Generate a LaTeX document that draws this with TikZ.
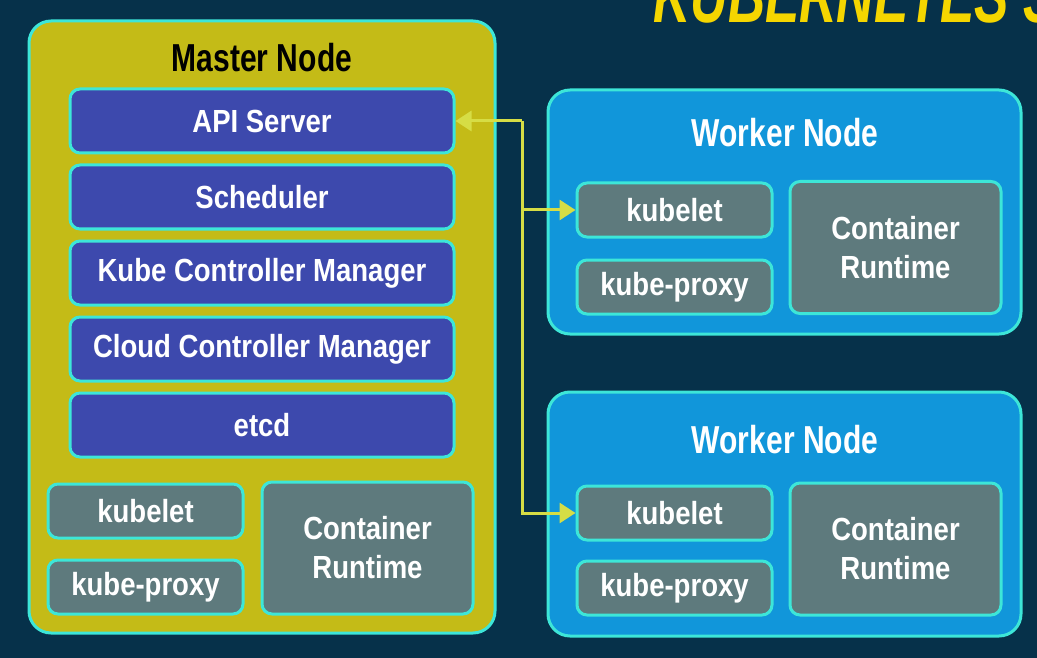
\documentclass[tikz,border=0pt]{standalone}
\usepackage{fontspec}
\setmainfont{Liberation Sans}[FakeStretch=0.86]
\newfontfamily\headfont{Liberation Sans}[FakeStretch=0.77]
\newfontfamily\bannerfont{Liberation Sans}[FakeStretch=0.67]
\usetikzlibrary{arrows.meta}
\definecolor{bg}{HTML}{06314A}
\definecolor{rim}{HTML}{3DE6D8}
\definecolor{masterfill}{HTML}{C4BB17}
\definecolor{workerfill}{HTML}{1196DA}
\definecolor{partfill}{HTML}{3D49AD}
\definecolor{agentfill}{HTML}{5E7A7D}
\definecolor{wire}{HTML}{D6DD45}
\definecolor{banner}{HTML}{F5D600}

\begin{document}
\begin{tikzpicture}[x=1pt,y=-1pt,
  box/.style={draw=rim,line width=3pt,rounded corners=10pt,text=white,align=center,
    font=\fontsize{32}{39}\selectfont\bfseries},
  part/.style={box,fill=partfill,minimum width=384pt,minimum height=64pt},
  agent/.style={box,fill=agentfill,minimum width=195pt,minimum height=54pt},
  runtime/.style={box,fill=agentfill,minimum width=211pt,minimum height=132pt},
  host/.style={draw=rim,line width=3pt,rounded corners=22pt},
  heading/.style={font=\headfont\fontsize{39}{46}\selectfont\bfseries},
  link/.style={draw=wire,line width=3pt,-{Triangle[length=16pt,width=20pt]}}]
\useasboundingbox (0,0) rectangle (1037,658);
\fill[bg] (0,0) rectangle (1037,658);
\node[anchor=base west,text=banner,font=\bannerfont\fontsize{77}{77}\selectfont\bfseries\itshape] (banner) at (650,23) {KUBERNETES S};

\node[host,fill=masterfill,minimum width=466pt,minimum height=612pt] (master) at (262,327) {};
\node[heading,text=black] (mastertitle) at (262,58) {Master Node};
\node[part] (api) at (262,121) {API Server};
\node[part] (sched) at (262,197) {Scheduler};
\node[part] (kcm) at (262,273) {Kube Controller Manager};
\node[part] (ccm) at (262,349) {Cloud Controller Manager};
\node[part] (etcd) at (262,425) {etcd};
\node[agent] (mkubelet) at (145.5,511) {kubelet};
\node[agent] (mproxy) at (145.5,587) {kube-proxy};
\node[runtime] (mruntime) at (367.5,548) {Container\\Runtime};

\node[host,fill=workerfill,minimum width=473pt,minimum height=244pt] (worker1) at (784.5,212) {};
\node[heading,text=white] (w1title) at (785,133) {Worker Node};
\node[agent] (w1kubelet) at (674.5,210) {kubelet};
\node[agent] (w1proxy) at (674.5,287) {kube-proxy};
\node[runtime] (w1runtime) at (895.5,247.5) {Container\\Runtime};

\node[host,fill=workerfill,minimum width=473pt,minimum height=244pt] (worker2) at (784.5,514) {};
\node[heading,text=white] (w2title) at (785,440) {Worker Node};
\node[agent] (w2kubelet) at (674.5,513) {kubelet};
\node[agent] (w2proxy) at (674.5,588) {kube-proxy};
\node[runtime] (w2runtime) at (895.5,549) {Container\\Runtime};

\coordinate (bus) at (522,0);
\draw[link] (api.east -| bus) -- (api.east);
\draw[link] (api.east -| bus) |- (w1kubelet.west);
\draw[link] (api.east -| bus) |- (w2kubelet.west);

\end{tikzpicture}
\end{document}
